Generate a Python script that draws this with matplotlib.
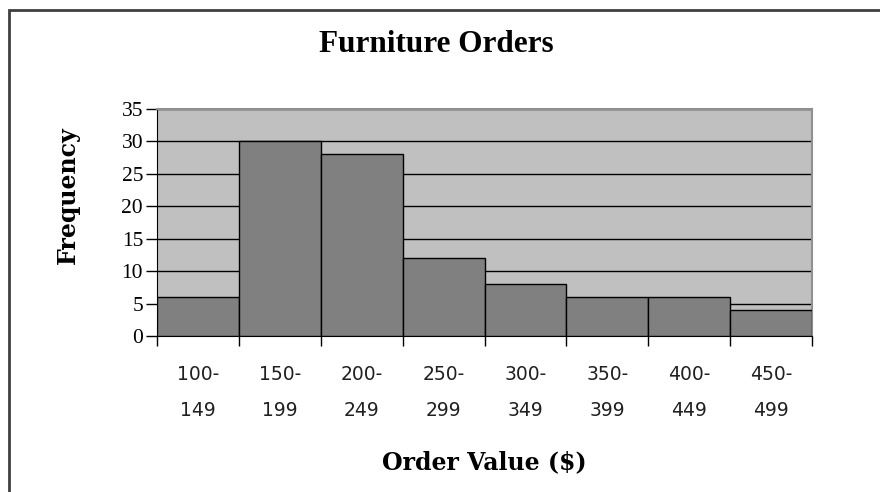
import numpy as np
import matplotlib
matplotlib.use("Agg")
import matplotlib.pyplot as plt
from matplotlib.patches import Rectangle

# bins and counts
bins = ["100-\n149", "150-\n199", "200-\n249", "250-\n299",
        "300-\n349", "350-\n399", "400-\n449", "450-\n499"]
counts = [6, 30, 28, 12, 8, 6, 6, 4]
yticks = [0, 5, 10, 15, 20, 25, 30, 35]

serif = "Liberation Serif"

fig = plt.figure(figsize=(8.8, 4.92), dpi=100)
fig.patch.set_facecolor("white")

# outer chart border (only top/left visible in the crop)
fig.patches.append(Rectangle((9 / 880, -0.1), 1.2, 1 - 10 / 492 + 0.1,
                             transform=fig.transFigure, fill=False,
                             edgecolor="#404040", linewidth=2))

ax = fig.add_axes([157 / 880, 1 - 336 / 492, 655 / 880, 227 / 492])
ax.set_facecolor("#c0c0c0")

ind = np.arange(len(counts))
ax.set_axisbelow(True)
ax.yaxis.grid(True, color="black", linewidth=1)
ax.bar(ind, counts, width=1.0, color="#808080", edgecolor="black",
       linewidth=1, zorder=3)

ax.set_xlim(-0.5, len(counts) - 0.5)
ax.set_ylim(0, 35)
ax.set_yticks(yticks)
ax.set_yticklabels([str(v) for v in yticks], fontfamily=serif, fontsize=15.5)

# ticks at bin edges, labels at bin centres
ax.set_xticks(np.arange(len(counts) + 1) - 0.5)
ax.set_xticklabels([])
ax.set_xticks(ind, minor=True)
ax.set_xticklabels(bins, minor=True, fontfamily="DejaVu Sans", fontsize=13.5,
                   linespacing=2.1)
ax.tick_params(axis="x", which="minor", length=0, pad=21, colors="#202020")
ax.tick_params(axis="x", which="major", length=7, width=1, direction="out",
               colors="black")
ax.tick_params(axis="y", length=8, width=1, pad=2)

for side in ["top", "right"]:
    ax.spines[side].set_color("#909090")
    ax.spines[side].set_linewidth(1.5)
ax.spines["left"].set_color("black")
ax.spines["bottom"].set_color("black")

fig.text(436 / 880, 1 - 45 / 492, "Furniture Orders", ha="center", va="center",
         fontfamily=serif, fontweight="bold", fontsize=22.5)
fig.text(484 / 880, 1 - 462 / 492, "Order Value ($)", ha="center", va="center",
         fontfamily="DejaVu Serif", fontweight="bold", fontsize=17)
fig.text(68 / 880, 1 - 195 / 492, "Frequency", ha="center", va="center",
         rotation=90, fontfamily="DejaVu Serif", fontweight="bold", fontsize=17)

plt.savefig("out.png", dpi=100)
plt.close()
